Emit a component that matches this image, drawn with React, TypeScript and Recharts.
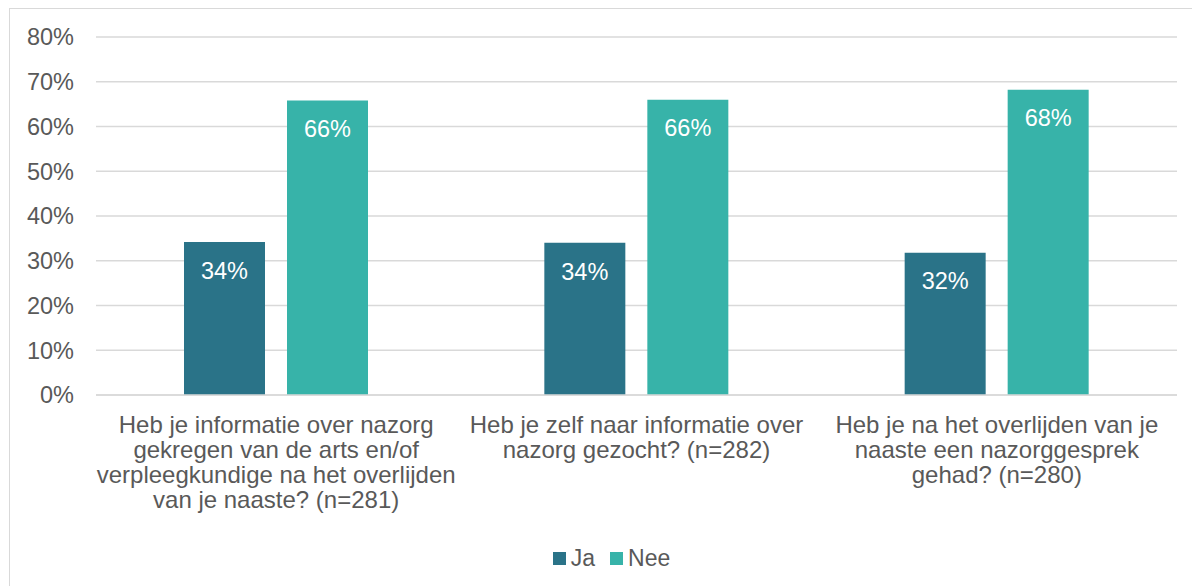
import { Bar, BarChart, CartesianGrid, LabelList, Legend, XAxis, YAxis } from "recharts";

const categories = ["Q1", "Q2", "Q3"];
const categoryLines = [
  ["Heb je informatie over nazorg", "gekregen van de arts en/of", "verpleegkundige na het overlijden", "van je naaste? (n=281)"],
  ["Heb je zelf naar informatie over", "nazorg gezocht? (n=282)"],
  ["Heb je na het overlijden van je", "naaste een nazorggesprek", "gehad? (n=280)"],
];
const ja = [34.2, 34.0, 31.8];
const nee = [65.8, 66.0, 68.2];
const yTicks = [0, 10, 20, 30, 40, 50, 60, 70, 80];

const JA_COLOR = "#2a7388";
const NEE_COLOR = "#37b3a9";
const FONT = "'Liberation Sans', Arial, sans-serif";

const data = categories.map((c, i) => ({ name: c, ja: ja[i], nee: nee[i] }));

function CategoryTick({ x, y, payload, index }: any) {
  const lines = categoryLines[payload?.index ?? index] ?? [];
  return (
    <text x={x} y={y} textAnchor="middle" fontSize={24} fill="#595959" fontFamily={FONT}>
      {lines.map((line, i) => (
        <tspan key={i} x={x} dy={i === 0 ? 30 : 25}>{line}</tspan>
      ))}
    </text>
  );
}

function LegendContent() {
  const items = [{ label: "Ja", color: JA_COLOR }, { label: "Nee", color: NEE_COLOR }];
  return (
    <div style={{ display: "flex", justifyContent: "center", gap: 15, paddingLeft: 46, fontFamily: FONT, fontSize: 23, color: "#595959" }}>
      {items.map((it) => (
        <div key={it.label} style={{ display: "flex", alignItems: "center", gap: 5 }}>
          <span style={{ width: 13, height: 13, background: it.color, display: "inline-block" }} />
          <span>{it.label}</span>
        </div>
      ))}
    </div>
  );
}

export default function App() {
  return (
    <div style={{ position: "relative", width: 1192, height: 586, overflow: "hidden", background: "#fff" }}>
      <style>{`body{margin:0}`}</style>
      <div style={{ position: "absolute", left: 9, top: 8, width: 1200, height: 600, border: "1px solid #d9d9d9", boxSizing: "border-box" }} />
      <BarChart
        width={1192}
        height={586}
        data={data}
        margin={{ top: 37, right: 15, left: 0, bottom: 5 }}
        barGap={22}
        barCategoryGap={88}
        style={{ position: "absolute", left: 0, top: 0 }}
      >
        <CartesianGrid vertical={false} stroke="#d9d9d9" strokeWidth={1.5} />
        <XAxis dataKey="name" tick={<CategoryTick />} tickLine={false} axisLine={{ stroke: "#d9d9d9", strokeWidth: 1.5 }} height={150} interval={0} />
        <YAxis
          domain={[0, 80]}
          ticks={yTicks}
          tickFormatter={(v) => `${v}%`}
          width={96}
          tickSize={0}
          tickMargin={22}
          axisLine={false}
          tickLine={false}
          tick={{ fontSize: 23.5, fill: "#595959", fontFamily: FONT }}
        />
        <Legend verticalAlign="bottom" height={36} content={<LegendContent />} />
        <Bar dataKey="ja" name="Ja" fill={JA_COLOR} isAnimationActive={false}>
          <LabelList dataKey="ja" position="insideTop" offset={20} fill="#fff" fontSize={23.5} fontFamily={FONT} formatter={(v: any) => `${Math.round(v)}%`} />
        </Bar>
        <Bar dataKey="nee" name="Nee" fill={NEE_COLOR} isAnimationActive={false}>
          <LabelList dataKey="nee" position="insideTop" offset={20} fill="#fff" fontSize={23.5} fontFamily={FONT} formatter={(v: any) => `${Math.round(v)}%`} />
        </Bar>
      </BarChart>
    </div>
  );
}
